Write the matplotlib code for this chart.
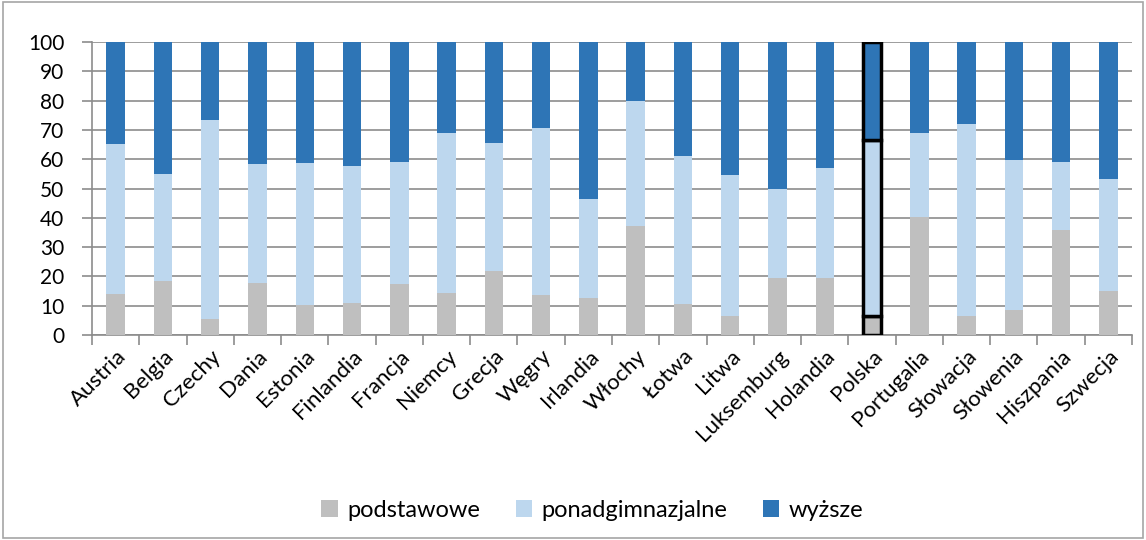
import numpy as np
import matplotlib.pyplot as plt
from matplotlib.patches import Rectangle

plt.rcParams['font.family'] = ['Lato', 'DejaVu Sans']

kraje = ['Austria', 'Belgia', 'Czechy', 'Dania', 'Estonia', 'Finlandia', 'Francja',
         'Niemcy', 'Grecja', 'Węgry', 'Irlandia', 'Włochy', 'Łotwa', 'Litwa',
         'Luksemburg', 'Holandia', 'Polska', 'Portugalia', 'Słowacja', 'Słowenia',
         'Hiszpania', 'Szwecja']
# udzialy w %
podstawowe = [13.9, 18.4, 5.5, 17.8, 10.3, 10.8, 17.4, 14.3, 21.7, 13.7, 12.8, 37.2,
              10.5, 6.5, 19.5, 19.3, 6.6, 40.3, 6.5, 8.6, 35.9, 15.1]
ponadgimnazjalne = [51.4, 36.7, 68.0, 40.4, 48.4, 46.9, 41.8, 54.6, 43.8, 57.0, 33.5, 42.8,
                    50.5, 48.1, 30.2, 37.6, 60.1, 28.6, 65.5, 51.0, 23.3, 38.1]
wyzsze = [100 - a - b for a, b in zip(podstawowe, ponadgimnazjalne)]

c_pod = '#BFBFBF'
c_pon = '#BDD7EE'
c_wyz = '#2E75B6'

fig = plt.figure(figsize=(11.46, 5.4), dpi=100)
ax = fig.add_axes([0.0803, 0.3796, 0.9075, 0.5426])

x = np.arange(len(kraje))
w = 0.39
dol = np.array(podstawowe)
srodek = dol + np.array(ponadgimnazjalne)
b1 = ax.bar(x, podstawowe, w, color=c_pod, label='podstawowe', zorder=3)
b2 = ax.bar(x, ponadgimnazjalne, w, bottom=dol, color=c_pon, label='ponadgimnazjalne', zorder=3)
b3 = ax.bar(x, wyzsze, w, bottom=srodek, color=c_wyz, label='wyższe', zorder=3)

# Polska wyrozniona obramowaniem
i = kraje.index('Polska')
for b in (b1, b2, b3):
    b[i].set_edgecolor('black')
    b[i].set_linewidth(2.5)
    b[i].set_zorder(4)

ax.set_xlim(-0.5, len(kraje) - 0.5)
ax.set_ylim(0, 100)
ax.set_yticks(range(0, 101, 10))
ax.yaxis.grid(True, color='#8C8C8C', lw=1.2, zorder=0)
ax.set_xticks(x)
ax.set_xticklabels(kraje, rotation=45, ha='right', rotation_mode='anchor', fontsize=16)
ax.set_xticks(np.arange(-0.5, len(kraje), 1), minor=True)
ax.tick_params(axis='x', which='major', length=0, pad=8)
ax.tick_params(axis='x', which='minor', length=7, color='#8C8C8C', width=1.2)
ax.tick_params(axis='y', length=7, color='#8C8C8C', width=1.2, labelsize=15, pad=13)
for s in ['top', 'right']:
    ax.spines[s].set_visible(False)
for s in ['left', 'bottom']:
    ax.spines[s].set_color('#8C8C8C')
    ax.spines[s].set_linewidth(1.2)

fig.legend(handles=[b1, b2, b3], loc='center', bbox_to_anchor=(0.517, 0.055), ncol=3,
           frameon=False, fontsize=17, handlelength=0.7, handleheight=0.7,
           columnspacing=1.5, handletextpad=0.4)

fig.patches.append(Rectangle((0.003, 0.003), 0.994, 0.994, transform=fig.transFigure,
                             fill=False, edgecolor='#A6A6A6', lw=1.2))

fig.savefig('out.png', dpi=100)
